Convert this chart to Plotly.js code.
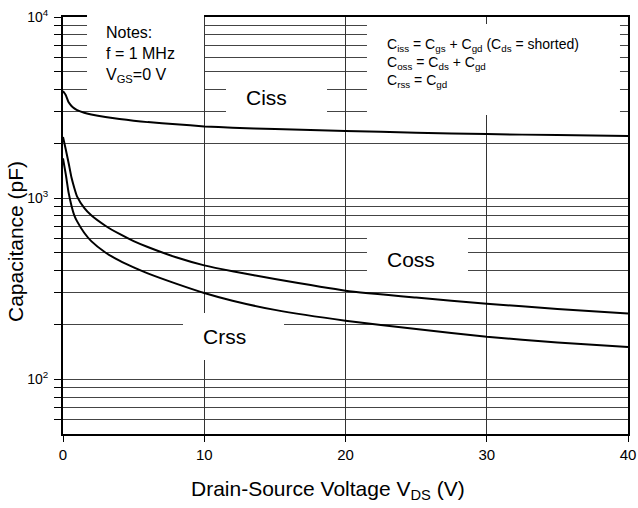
<!DOCTYPE html>
<html>
<head>
<meta charset="utf-8">
<script src="https://cdn.plot.ly/plotly-3.0.1.min.js"></script>
<style>html,body{margin:0;padding:0;background:#fff;}#chart{width:638px;height:508px;}</style>
</head>
<body>
<div id="chart"></div>
<script>
// Drain-source voltage (V)
const vds = [0, 0.2, 0.4, 0.6, 0.8, 1, 1.5, 2, 3, 4, 5, 6, 8, 10, 12, 15, 20, 25, 30, 35, 40];
// Capacitances (pF)
const ciss = [3900, 3700, 3380, 3230, 3130, 3060, 2960, 2900, 2810, 2740, 2680, 2630, 2560, 2490, 2450, 2410, 2350, 2300, 2258, 2230, 2205];
const coss = [2180, 1850, 1560, 1300, 1140, 1020, 885, 805, 705, 635, 580, 538, 472, 426, 395, 358, 309, 283, 262, 245, 231];
const crss = [1660, 1350, 1070, 910, 805, 745, 645, 580, 502, 452, 415, 385, 338, 300, 272, 242, 211, 190, 172, 160, 151];

const xTicks = [0, 10, 20, 30, 40];
const yMajorVals = [100, 1000, 10000];
const yMajorText = ['10<sup>2</sup>', '10<sup>3</sup>', '10<sup>4</sup>'];
const yMinorVals = [60, 70, 80, 90, 200, 300, 400, 500, 600, 700, 800, 900,
  2000, 3000, 4000, 5000, 6000, 7000, 8000, 9000];

const FONT = 'Arial, "Liberation Sans", sans-serif';
const names = ['Ciss', 'Coss', 'Crss'];
const traces = [ciss, coss, crss].map((ys, i) => ({
  x: vds, y: ys, mode: 'lines', name: names[i],
  line: {color: '#000', width: 2, shape: 'spline', smoothing: 0.5}
}));

// white label boxes (paper coords)
function box(x0, x1, y0, y1) {
  return {type: 'rect', xref: 'paper', yref: 'paper', x0: x0, x1: x1, y0: y0, y1: y1,
    fillcolor: '#fff', line: {width: 0}, layer: 'above'};
}

const layout = {
  width: 638, height: 508,
  margin: {l: 63, r: 10, t: 17, b: 74},
  paper_bgcolor: '#fff', plot_bgcolor: '#fff',
  showlegend: false,
  font: {family: FONT, color: '#000', size: 15},
  xaxis: {
    range: [0, 40], tickvals: xTicks, ticks: 'outside', ticklen: 6, tickcolor: '#000',
    showline: true, linecolor: '#000', linewidth: 2, mirror: true,
    showgrid: true, gridcolor: '#333', gridwidth: 1, zeroline: false,
    tickfont: {size: 15}
  },
  yaxis: {
    type: 'log', range: [Math.log10(50), 4], tickmode: 'array', tickvals: yMajorVals, ticktext: yMajorText,
    ticks: 'outside', ticklen: 7, tickcolor: '#000', ticklabelstandoff: 3,
    showline: true, linecolor: '#000', linewidth: 2, mirror: true,
    showgrid: true, gridcolor: '#444', gridwidth: 1, zeroline: false,
    tickfont: {size: 14},
    minor: {tickmode: 'array', tickvals: yMinorVals, ticks: 'outside', ticklen: 7, tickcolor: '#000',
      showgrid: true, gridcolor: '#444', gridwidth: 1}
  },
  shapes: [
    box(0.0425, 0.2496, 0.801, 1.02),
    box(0.2885, 0.4673, 0.748, 0.849),
    box(0.538, 0.7168, 0.3693, 0.4892),
    box(0.2124, 0.3912, 0.1775, 0.2902),
    box(0.538, 0.9858, 0.765, 0.9832)
  ],
  annotations: [
    {xref: 'paper', yref: 'paper', x: 0.469, y: -0.1343, xanchor: 'center', yanchor: 'middle', showarrow: false,
      text: 'Drain-Source Voltage V<sub>DS</sub> (V)', font: {size: 21}},
    {xref: 'paper', yref: 'paper', x: -0.085, y: 0.4628, xanchor: 'center', yanchor: 'middle', showarrow: false,
      textangle: -90, text: 'Capacitance (pF)', font: {size: 21}},
    {xref: 'paper', yref: 'paper', x: 0.073, y: 0.988, xanchor: 'left', yanchor: 'top', align: 'left', showarrow: false,
      text: 'Notes:<br>f = 1 MHz<br>V<sub>GS</sub>=0 V', font: {size: 16}},
    {xref: 'paper', yref: 'paper', x: 0.570, y: 0.960, xanchor: 'left', yanchor: 'top', align: 'left', showarrow: false,
      text: 'C<sub>iss</sub> = C<sub>gs</sub> + C<sub>gd</sub> (C<sub>ds</sub> = shorted)<br>C<sub>oss</sub> = C<sub>ds</sub> + C<sub>gd</sub><br>C<sub>rss</sub> = C<sub>gd</sub>', font: {size: 14}},
    {xref: 'paper', yref: 'paper', x: 0.3593, y: 0.8058, xanchor: 'center', yanchor: 'middle', showarrow: false, text: 'Ciss', font: {size: 21}},
    {xref: 'paper', yref: 'paper', x: 0.6159, y: 0.4189, xanchor: 'center', yanchor: 'middle', showarrow: false, text: 'Coss', font: {size: 21}},
    {xref: 'paper', yref: 'paper', x: 0.2850, y: 0.2333, xanchor: 'center', yanchor: 'middle', showarrow: false, text: 'Crss', font: {size: 21}}
  ]
};

Plotly.newPlot('chart', traces, layout, {staticPlot: true, displayModeBar: false});
</script>
</body>
</html>
